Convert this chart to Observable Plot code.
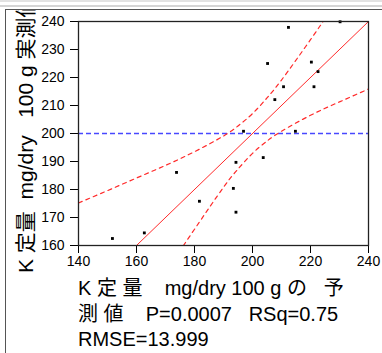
<!DOCTYPE html>
<html><head><meta charset="utf-8">
<script src="https://cdn.jsdelivr.net/npm/d3@7"></script>
<script src="https://cdn.jsdelivr.net/npm/@observablehq/plot@0.6"></script>
<style>
html,body{margin:0;padding:0;background:#fff;}
svg{display:block;}
</style></head><body><div id="chart"></div>
<script>
// Observed (actual) vs predicted K content, mg/dry 100 g
const predicted = [151.7,162.7,173.8,181.7,193.4,194.3,194.3,196.9,203.7,205.2,207.7,210.7,212.4,214.8,220.3,221.2,222.6,230.2];
const actual    = [162.5,164.5,186.1,175.8,180.4,171.9,189.7,200.8,191.4,225.0,212.1,216.7,237.9,200.8,225.5,216.7,222.1,239.9];
// Fit line (actual = predicted) and mean of actual
const fitX = [140, 240];
const fitY = [140, 240];
const meanActual = 200;
// Confidence curves
const upperX = [140,150,160,170,180,190,195,200,205,210,220,230];
const upperY = [175.2,179.6,184.1,188.6,193.5,199.1,202.7,207.1,212.7,219.1,233.5,248.6];
const lowerX = [170,180,190,195,200,205,210,220,230,240];
const lowerY = [150.5,165.8,180.8,187.3,192.9,197.3,200.8,206.5,211.3,215.9];
// Axis ticks
const xTicks = [140,160,180,200,220,240];
const yTicks = [160,170,180,190,200,210,220,230,240];
// Texts
const yLabel = "K\u00A0定量\u00A0\u00A0mg/dry\u00A0\u00A0\u00A0100\u00A0g\u00A0実測値";
const xLabelLines = [
  "K\u00A0定\u00A0量\u00A0\u00A0\u00A0\u00A0mg/dry\u00A0100\u00A0g\u00A0の\u00A0\u00A0\u00A0予",
  "測\u00A0値\u00A0\u00A0\u00A0\u00A0P=0.0007\u00A0\u00A0\u00A0RSq=0.75",
  "RMSE=13.999"
];

const pts = predicted.map((p, i) => ({p, a: actual[i]}));
const fit = fitX.map((x, i) => ({x, y: fitY[i]}));
const up = upperX.map((x, i) => ({x, y: upperY[i]}));
const lo = lowerX.map((x, i) => ({x, y: lowerY[i]}));

const svg = Plot.plot({
  width: 382, height: 353,
  marginLeft: 78, marginRight: 14, marginTop: 21, marginBottom: 108,
  style: {fontFamily: "'Liberation Sans', Arial, sans-serif", fontSize: "14px", background: "white", color: "black"},
  x: {domain: [140, 240], ticks: xTicks, label: null, tickSize: 8, tickPadding: 3},
  y: {domain: [160, 240], ticks: yTicks, label: null, tickSize: 8, tickPadding: 6},
  marks: [
    Plot.ruleY([meanActual], {stroke: "#4848ff", strokeWidth: 1.5, strokeDasharray: "5,3"}),
    Plot.line(fit, {x: "x", y: "y", stroke: "#ff2a2a", strokeWidth: 1, clip: true}),
    Plot.line(up, {x: "x", y: "y", stroke: "#ff2a2a", strokeWidth: 1.2, strokeDasharray: "4,4", curve: "natural", clip: true}),
    Plot.line(lo, {x: "x", y: "y", stroke: "#ff2a2a", strokeWidth: 1.2, strokeDasharray: "4,4", curve: "natural", clip: true}),
    Plot.dot(pts, {x: "p", y: "a", symbol: "square", r: 1.6, fill: "black", stroke: "none"}),
    Plot.frame({stroke: "#222", strokeWidth: 1.3})
  ]
});

const s = d3.select(svg);
const font = "'Liberation Sans','Noto Sans CJK JP',sans-serif";
s.append("defs").append("clipPath").attr("id", "ylabclip")
  .append("rect").attr("x", 0).attr("y", 10).attr("width", 70).attr("height", 343);
s.append("g").attr("clip-path", "url(#ylabclip)")
  .append("text")
  .attr("transform", "translate(33,273) rotate(-90)")
  .attr("text-anchor", "start")
  .attr("font-family", font).attr("font-size", 21).attr("fill", "black")
  .text(yLabel);
const baselines = [295, 321, 346];
xLabelLines.forEach((t, i) => {
  s.append("text").attr("x", 78).attr("y", baselines[i])
    .attr("text-anchor", "start")
    .attr("font-family", font).attr("font-size", 20).attr("fill", "black")
    .text(t);
});
// window chrome
s.append("rect").attr("x", 0).attr("y", 0).attr("width", 382).attr("height", 2).attr("fill", "#e2e2e2");
s.append("rect").attr("x", 0).attr("y", 5).attr("width", 382).attr("height", 2).attr("fill", "#d4d4d4");
s.append("line").attr("x1", 5).attr("x2", 382).attr("y1", 9.5).attr("y2", 9.5).attr("stroke", "#555");
s.append("line").attr("x1", 5.5).attr("x2", 5.5).attr("y1", 9).attr("y2", 353).attr("stroke", "#555");

document.getElementById("chart").appendChild(svg);
</script>
</body></html>
